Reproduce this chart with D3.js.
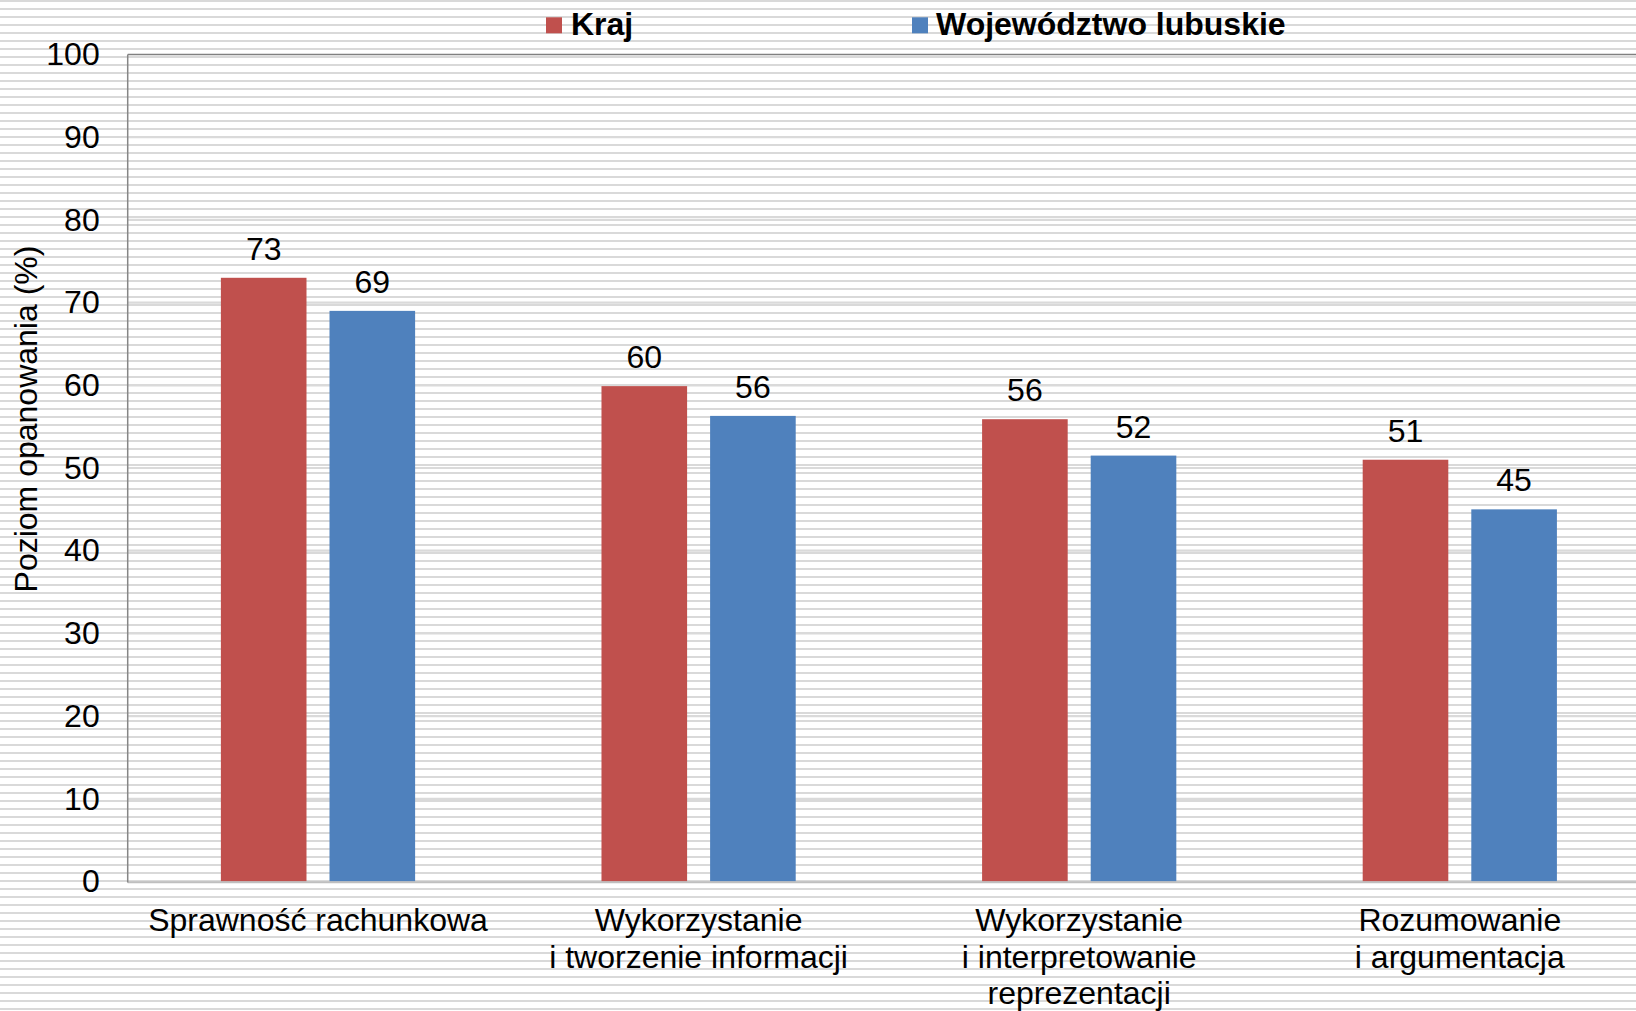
<!DOCTYPE html>
<html>
<head>
<meta charset="utf-8">
<script src="https://cdn.jsdelivr.net/npm/d3@7"></script>
<style>
  html, body { margin: 0; padding: 0; background: #fff; }
  svg { display: block; font-family: "Liberation Sans", Arial, sans-serif; }
</style>
</head>
<body>
<div class="chart"></div>
<script>
// chart data
var categories = [
  "Sprawność rachunkowa",
  "Wykorzystanie\ni tworzenie informacji",
  "Wykorzystanie\ni interpretowanie\nreprezentacji",
  "Rozumowanie\ni argumentacja"
];
var seriesNames = ["Kraj", "Województwo lubuskie"];
var kraj = [73, 59.9, 55.9, 51];
var lubuskie = [69, 56.3, 51.5, 45];
var yTicks = [0, 10, 20, 30, 40, 50, 60, 70, 80, 90, 100];

drawchart();

function drawchart() {
  var svgWidth = 1636,
      svgHeight = 1011;
  var colors = {"Kraj": "#C0504D", "Województwo lubuskie": "#4F81BD"};

  // plot area (runs a bit past the right edge, like the original)
  var plot = {left: 127.7, right: 1650.1, top: 54.5, bottom: 881.5};

  var svg = d3.select(".chart")
    .append("svg")
      .attr("width", svgWidth)
      .attr("height", svgHeight);

  // striped background
  var defs = svg.append("defs");
  var pat = defs.append("pattern")
      .attr("id", "stripes")
      .attr("patternUnits", "userSpaceOnUse")
      .attr("width", 8)
      .attr("height", 8);
  pat.append("rect").attr("width", 8).attr("height", 8).attr("fill", "#fff");
  pat.append("rect").attr("y", 0).attr("width", 8).attr("height", 2).attr("fill", "#d9d9d9");

  svg.append("rect")
      .attr("width", svgWidth)
      .attr("height", svgHeight)
      .attr("fill", "url(#stripes)");

  var data = categories.map(function(c, i) {
    return {cat: c, values: [
      {name: seriesNames[0], value: kraj[i]},
      {name: seriesNames[1], value: lubuskie[i]}
    ]};
  });

  var x0 = d3.scaleBand()
      .domain(categories)
      .range([plot.left, plot.right])
      .paddingInner(0)
      .paddingOuter(0);

  var x1 = d3.scaleBand()
      .domain(seriesNames)
      .range([0, x0.bandwidth()])
      .paddingInner(0.2118)
      .paddingOuter(0.858);

  var y = d3.scaleLinear()
      .domain([0, 100])
      .range([plot.bottom, plot.top]);

  // gridlines (faint, they mostly merge with the stripes)
  svg.append("g").selectAll("line")
    .data(yTicks.filter(function(t){ return t > 0 && t < 100; }))
    .enter().append("line")
      .attr("x1", plot.left)
      .attr("x2", svgWidth)
      .attr("y1", function(d){ return y(d); })
      .attr("y2", function(d){ return y(d); })
      .attr("stroke", "#dadada")
      .attr("stroke-width", 2.2);

  // bars
  var groups = svg.append("g").selectAll(".grp")
    .data(data)
    .enter().append("g")
      .attr("class", "grp")
      .attr("transform", function(d){ return "translate(" + x0(d.cat) + ",0)"; });

  groups.selectAll("rect")
    .data(function(d){ return d.values; })
    .enter().append("rect")
      .attr("x", function(d){ return x1(d.name); })
      .attr("y", function(d){ return y(d.value); })
      .attr("width", x1.bandwidth())
      .attr("height", function(d){ return y(0) - y(d.value); })
      .attr("fill", function(d){ return colors[d.name]; });

  groups.selectAll(".lbl")
    .data(function(d){ return d.values; })
    .enter().append("text")
      .attr("class", "lbl")
      .attr("x", function(d){ return x1(d.name) + x1.bandwidth() / 2; })
      .attr("y", function(d){ return y(d.value) - 18; })
      .attr("text-anchor", "middle")
      .attr("font-size", 32)
      .attr("fill", "#000")
      .text(function(d){ return Math.round(d.value); });

  // axes lines
  svg.append("line")
      .attr("x1", plot.left).attr("x2", svgWidth)
      .attr("y1", plot.bottom + 0.7).attr("y2", plot.bottom + 0.7)
      .attr("stroke", "#bfbfbf").attr("stroke-width", 2);
  svg.append("line")
      .attr("x1", plot.left).attr("x2", svgWidth)
      .attr("y1", plot.top).attr("y2", plot.top)
      .attr("stroke", "#808080").attr("stroke-width", 1.5);
  svg.append("line")
      .attr("x1", plot.left).attr("x2", plot.left)
      .attr("y1", plot.top).attr("y2", plot.bottom + 1)
      .attr("stroke", "#868686").attr("stroke-width", 1.5);

  // y axis ticks
  var yAxis = svg.append("g")
      .attr("transform", "translate(" + plot.left + ",0)")
      .call(d3.axisLeft(y).tickValues(yTicks).tickSize(0).tickPadding(28));
  yAxis.select(".domain").remove();
  yAxis.selectAll("text")
      .attr("font-size", 32)
      .attr("font-family", "Liberation Sans, Arial, sans-serif")
      .attr("fill", "#000");

  // y axis title
  svg.append("text")
      .attr("transform", "translate(37,419) rotate(-90)")
      .attr("text-anchor", "middle")
      .attr("font-size", 32)
      .attr("fill", "#000")
      .text("Poziom opanowania (%)");

  // category labels
  var catLabels = svg.append("g").selectAll(".cat")
    .data(categories)
    .enter().append("text")
      .attr("class", "cat")
      .attr("text-anchor", "middle")
      .attr("font-size", 32)
      .attr("fill", "#000")
      .attr("x", function(d){ return x0(d) + x0.bandwidth() / 2; })
      .attr("y", 931);
  catLabels.selectAll("tspan")
    .data(function(d){ return d.split("\n"); })
    .enter().append("tspan")
      .attr("x", function(){ return d3.select(this.parentNode).attr("x"); })
      .attr("dy", function(d, i){ return i === 0 ? 0 : 36.7; })
      .text(function(d){ return d; });

  // legend
  var legendPos = [{sq: 546, tx: 571}, {sq: 912, tx: 936}];
  var legend = svg.append("g").selectAll(".leg")
    .data(seriesNames)
    .enter().append("g")
      .attr("class", "leg");
  legend.append("rect")
      .attr("x", function(d, i){ return legendPos[i].sq; })
      .attr("y", 17.3)
      .attr("width", 16)
      .attr("height", 16)
      .attr("fill", function(d){ return colors[d]; });
  legend.append("text")
      .attr("x", function(d, i){ return legendPos[i].tx; })
      .attr("y", 34.5)
      .attr("font-size", 32)
      .attr("font-weight", "bold")
      .attr("fill", "#000")
      .text(function(d){ return d; });
}
</script>
</body>
</html>
